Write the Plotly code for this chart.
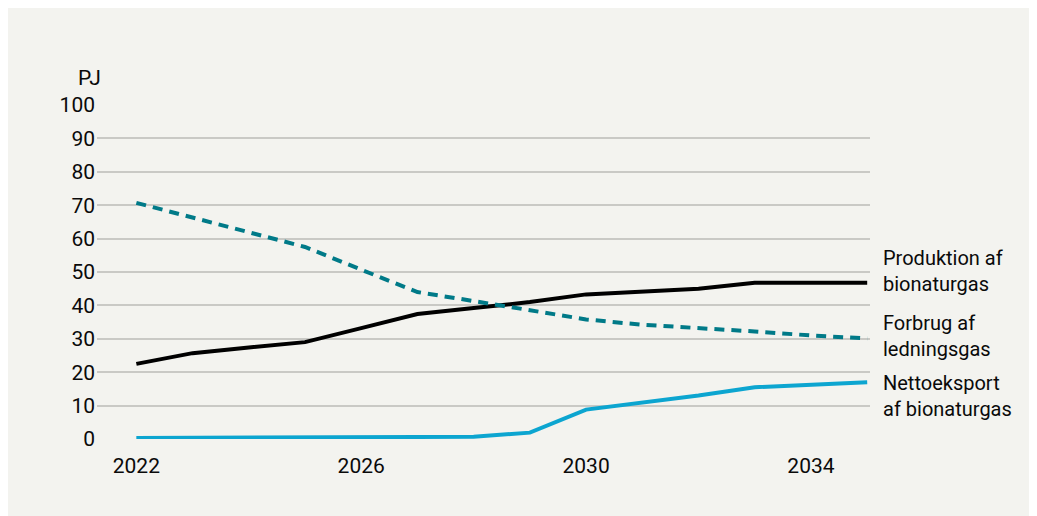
import plotly.graph_objects as go

# data (PJ)
years = list(range(2022, 2036))
produktion = [22.5, 25.7, 27.4, 29.0, 33.2, 37.4, 39.2, 41.0, 43.3, 44.2, 45.0, 46.8, 46.8, 46.8]
forbrug = [70.7, 66.3, 61.9, 57.5, 50.7, 44.0, 41.3, 38.6, 35.8, 34.2, 33.3, 32.2, 31.0, 30.1]
netto = [0.3, 0.3, 0.4, 0.4, 0.5, 0.6, 0.7, 1.9, 8.8, 10.9, 13.0, 15.5, 16.3, 17.0]

labels = ["Produktion af<br>bionaturgas", "Forbrug af<br>ledningsgas", "Nettoeksport<br>af bionaturgas"]
label_y = [50.2, 30.8, 12.8]

font = "Roboto, sans-serif"
bg = "#f3f3ef"

fig = go.Figure()
fig.add_trace(go.Scatter(x=years, y=produktion, mode="lines",
                         line=dict(color="#000000", width=4)))
fig.add_trace(go.Scatter(x=years, y=forbrug, mode="lines",
                         line=dict(color="#007a88", width=4, dash="10px,7px")))
fig.add_trace(go.Scatter(x=years, y=netto, mode="lines",
                         line=dict(color="#0ca5d0", width=4)))

for txt, yv in zip(labels, label_y):
    fig.add_annotation(x=1.014, xref="paper", y=yv, yref="y", text=txt,
                       showarrow=False, xanchor="left", yanchor="middle", align="left",
                       font=dict(size=20, color="#0a0a0a", family=font))

fig.add_annotation(x=0.008, xref="paper", y=1.04, yref="paper", text="PJ",
                   showarrow=False, xanchor="right", yanchor="bottom",
                   font=dict(size=21, color="#0a0a0a", family=font))

fig.update_layout(
    width=1037, height=516,
    margin=dict(l=89, r=175, t=97, b=85),
    paper_bgcolor=bg, plot_bgcolor=bg,
    showlegend=False,
    font=dict(family=font, size=21, color="#0a0a0a"),
    xaxis=dict(range=[2021.3, 2035.05], tickvals=[2022, 2026, 2030, 2034],
               showgrid=False, zeroline=False, showline=False, ticks="",
               tickfont=dict(size=21), ticklabelstandoff=12),
    yaxis=dict(range=[0, 100], dtick=10, showgrid=True, gridcolor="#c9c9c5", gridwidth=1.5,
               zeroline=False, showline=False, ticks="", tickfont=dict(size=21),
               ticklabelstandoff=1),
)

fig.write_html("out.html")
